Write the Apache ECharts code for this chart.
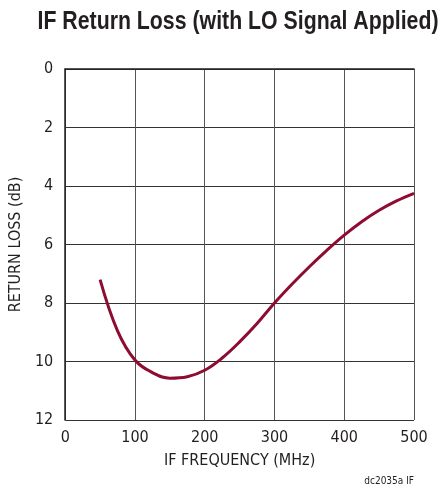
<!DOCTYPE html>
<html><head><meta charset="utf-8">
<script src="https://cdn.jsdelivr.net/npm/echarts@6/dist/echarts.min.js"></script>
<style>html,body{margin:0;padding:0;background:#fff}#c{width:446px;height:487px}</style>
</head><body><div id="c"></div>
<script>
const freqMHz = [50, 75, 100, 125, 150, 175, 200, 225, 250, 275, 300, 325, 350, 375, 400, 425, 450, 475, 500];
const returnLossDb = [7.2, 8.95, 9.95, 10.38, 10.57, 10.52, 10.3, 9.88, 9.33, 8.7, 8.0, 7.36, 6.76, 6.2, 5.68, 5.22, 4.83, 4.51, 4.25];
const xTicks = [0, 100, 200, 300, 400, 500];
const yTicks = [0, 2, 4, 6, 8, 10, 12];
const titleText = 'IF Return Loss (with LO Signal Applied)';
const xName = 'IF FREQUENCY (MHz)';
const yName = 'RETURN LOSS (dB)';
const noteText = 'dc2035a IF';

const FONT = '"DejaVu Sans Condensed","Liberation Sans",sans-serif';
const TITLE_FONT = 'bold 25px "Liberation Sans", Arial, sans-serif';
const cv = document.createElement('canvas').getContext('2d');
cv.font = TITLE_FONT;
const titleW = cv.measureText(titleText).width;
const titleScale = 401 / titleW;

const chart = echarts.init(document.getElementById('c'));
chart.setOption({
  animation: false,
  graphic: [{
    type: 'text', x: 238, y: 22, scaleX: titleScale, scaleY: 1,
    style: {text: titleText, font: TITLE_FONT, fill: '#231f20', align: 'center', verticalAlign: 'middle'}
  }, {
    type: 'text', right: 32, top: 476,
    style: {text: noteText, fontFamily: FONT, fontSize: 10, fill: '#231f20'}
  }],
  grid: {left: 63, right: 32, top: 69, bottom: 67, containLabel: false},
  xAxis: {
    type: 'value', min: 0, max: 500, interval: 100,
    name: xName, nameLocation: 'middle', nameGap: 33,
    nameTextStyle: {fontFamily: FONT, fontSize: 16, color: '#231f20'},
    axisLine: {show: true, lineStyle: {color: '#231f20', width: 1.5}},
    axisTick: {show: false},
    axisLabel: {fontFamily: FONT, fontSize: 16, color: '#231f20', margin: 10,
      formatter: v => xTicks.includes(v) ? String(v) : ''},
    splitLine: {show: true, lineStyle: {color: '#555', width: 1}}
  },
  yAxis: {
    type: 'value', min: 0, max: 12, interval: 2, inverse: true,
    name: yName, nameLocation: 'middle', nameGap: 38,
    nameTextStyle: {fontFamily: FONT, fontSize: 16, color: '#231f20'},
    axisLine: {show: true, lineStyle: {color: '#231f20', width: 1.5}},
    axisTick: {show: false},
    axisLabel: {fontFamily: FONT, fontSize: 16, color: '#231f20', margin: 12,
      formatter: v => yTicks.includes(v) ? String(v) : ''},
    splitLine: {show: true, lineStyle: {color: '#333', width: 1}}
  },
  series: [{
    type: 'line', smooth: 0.4, showSymbol: false,
    data: freqMHz.map((f, i) => [f, returnLossDb[i]]),
    lineStyle: {color: '#8e0b32', width: 3},
    z: 5
  }]
});
</script>
</body></html>
